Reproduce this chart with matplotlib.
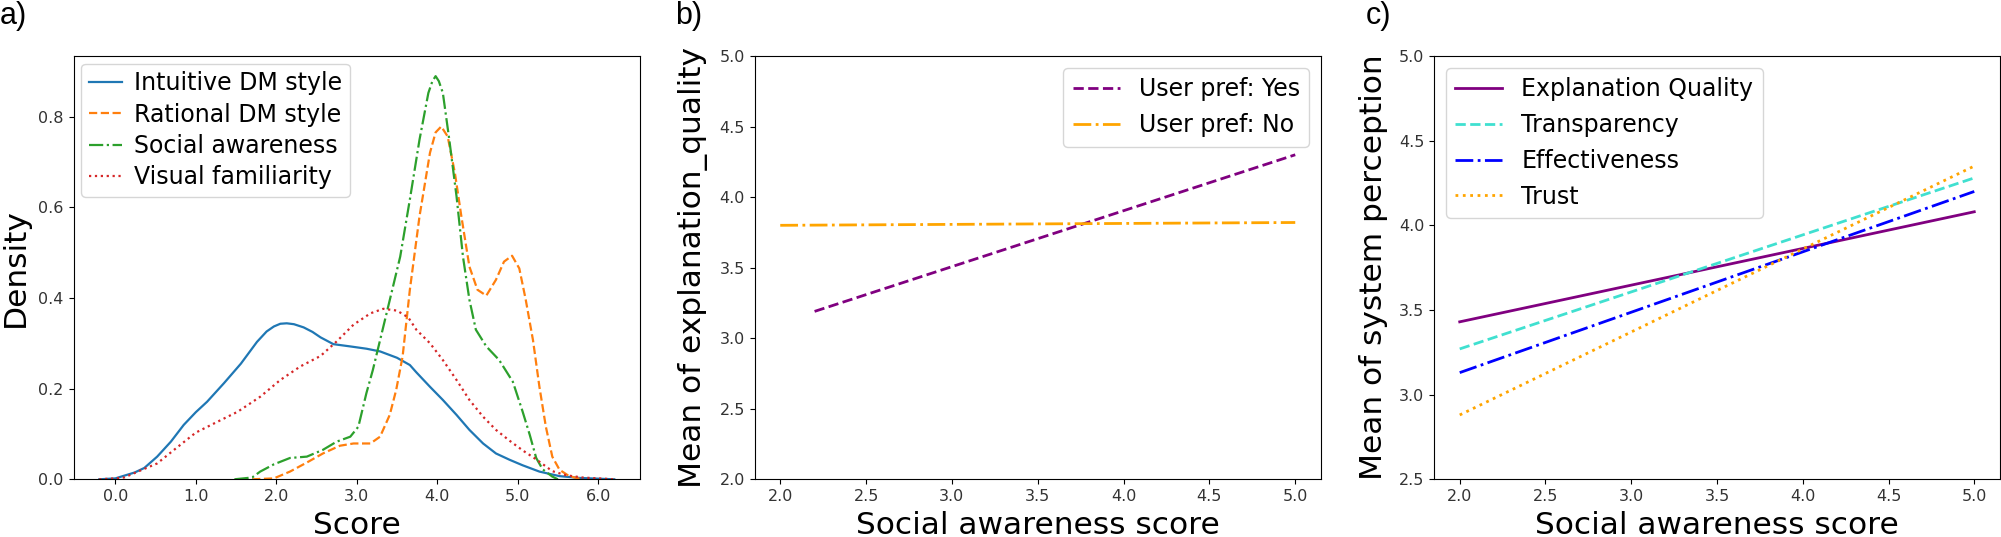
"""Three panels: score densities, and the two regression plots against social awareness."""
import matplotlib
matplotlib.use("Agg")
import matplotlib.pyplot as plt

# ---- panel a: density of each questionnaire score
INTUITIVE_X = [-0.2, 0.0, 0.24, 0.36, 0.52, 0.69, 0.85, 1.0, 1.14, 1.35, 1.56, 1.76, 1.88,
               1.97, 2.05, 2.13, 2.22, 2.34, 2.45, 2.55, 2.71, 2.92, 3.12, 3.29, 3.5, 3.66,
               3.74, 3.91, 4.07, 4.24, 4.40, 4.57, 4.73, 4.90, 5.06, 5.27, 5.52, 5.77, 6.2]
INTUITIVE_D = [0.0, 0.002, 0.015, 0.025, 0.05, 0.083, 0.12, 0.148, 0.171, 0.212, 0.255, 0.303,
               0.326, 0.337, 0.343, 0.344, 0.342, 0.335, 0.325, 0.313, 0.298, 0.293, 0.288,
               0.282, 0.268, 0.252, 0.236, 0.204, 0.175, 0.142, 0.109, 0.079, 0.057, 0.043,
               0.031, 0.017, 0.007, 0.003, 0.0]

RATIONAL_X = [1.7, 1.97, 2.17, 2.38, 2.58, 2.79, 2.96, 3.17, 3.29, 3.41, 3.49, 3.57, 3.66,
              3.78, 3.91, 3.98, 4.05, 4.13, 4.22, 4.30, 4.40, 4.5, 4.61, 4.73, 4.83, 4.93,
              5.02, 5.10, 5.19, 5.27, 5.35, 5.43, 5.52, 5.64, 5.8]
RATIONAL_D = [0.0, 0.002, 0.017, 0.037, 0.057, 0.074, 0.079, 0.079, 0.094, 0.142, 0.197,
              0.271, 0.418, 0.58, 0.72, 0.765, 0.778, 0.756, 0.675, 0.58, 0.469, 0.418,
              0.405, 0.44, 0.48, 0.493, 0.465, 0.396, 0.307, 0.204, 0.116, 0.05, 0.021,
              0.007, 0.0]

SOCIAL_X = [1.48, 1.7, 1.8, 1.97, 2.17, 2.38, 2.58, 2.75, 2.92, 3.02, 3.12, 3.2, 3.29, 3.41,
            3.54, 3.66, 3.78, 3.89, 3.94, 3.98, 4.02, 4.07, 4.15, 4.24, 4.32, 4.40, 4.48,
            4.61, 4.77, 4.94, 5.06, 5.15, 5.23, 5.31, 5.43, 5.5]
SOCIAL_D = [0.0, 0.004, 0.017, 0.033, 0.047, 0.05, 0.065, 0.083, 0.094, 0.116, 0.19, 0.241,
            0.307, 0.395, 0.491, 0.617, 0.749, 0.852, 0.878, 0.889, 0.878, 0.852, 0.749,
            0.624, 0.491, 0.396, 0.330, 0.293, 0.263, 0.215, 0.15, 0.098, 0.047, 0.022,
            0.006, 0.0]

VISUAL_X = [-0.2, 0.0, 0.11, 0.32, 0.52, 0.73, 1.0, 1.27, 1.52, 1.8, 2.05, 2.3, 2.55, 2.75,
            2.96, 3.17, 3.33, 3.5, 3.64, 3.74, 3.91, 4.07, 4.24, 4.40, 4.57, 4.73, 4.90,
            5.06, 5.23, 5.43, 5.6, 5.8, 6.2]
VISUAL_D = [0.0, 0.002, 0.004, 0.02, 0.035, 0.065, 0.103, 0.127, 0.149, 0.182, 0.219, 0.249,
            0.272, 0.304, 0.341, 0.366, 0.376, 0.372, 0.357, 0.33, 0.30, 0.263, 0.219, 0.175,
            0.138, 0.109, 0.085, 0.064, 0.044, 0.018, 0.009, 0.004, 0.0]

# ---- panel b: fitted explanation quality by user preference
PREF_YES_X, PREF_YES_Y = [2.2, 5.0], [3.19, 4.30]
PREF_NO_X, PREF_NO_Y = [2.0, 5.0], [3.80, 3.82]

# ---- panel c: fitted system perception measures
SA_X = [2.0, 5.0]
EXPL_QUALITY = [3.43, 4.08]
TRANSPARENCY = [3.27, 4.28]
EFFECTIVENESS = [3.13, 4.20]
TRUST = [2.88, 4.35]

LABEL_FS, LEG_FS, TICK_FS = 22.5, 17, 11.5
TICK_COL = "#333333"

fig = plt.figure(figsize=(20.01, 5.37), dpi=100)
W, H = 2001, 537


def axes_at(left, right, top=56, bottom=479.3):
    return fig.add_axes([left / W, (H - bottom) / H, (right - left) / W, (bottom - top) / H])


def finish(ax, xlabel, ylabel, ylab_x):
    ax.set_xlabel(xlabel, fontsize=LABEL_FS)
    ax.set_ylabel(ylabel, fontsize=LABEL_FS)
    ax.xaxis.set_label_coords(0.5, -0.075)
    ax.yaxis.set_label_coords(ylab_x, 0.5)
    ax.tick_params(labelsize=TICK_FS, labelcolor=TICK_COL)


# a) densities
ax = axes_at(73.5, 640)
ax.plot(INTUITIVE_X, INTUITIVE_D, color="C0", ls="-", lw=1.6, label="Intuitive DM style")
ax.plot(RATIONAL_X, RATIONAL_D, color="C1", ls="--", lw=1.6, label="Rational DM style")
ax.plot(SOCIAL_X, SOCIAL_D, color="C2", ls="-.", lw=1.6, label="Social awareness")
ax.plot(VISUAL_X, VISUAL_D, color="C3", ls=":", lw=1.6, label="Visual familiarity")
ax.set_ylim(0, None)
ax.set_xticks(range(7))
ax.set_xticklabels([f"{v:.1f}" for v in range(7)])
ax.set_yticks([0, 0.2, 0.4, 0.6, 0.8])
ax.set_yticklabels([f"{v:.1f}" for v in [0, 0.2, 0.4, 0.6, 0.8]])
ax.legend(loc="upper left", fontsize=LEG_FS, borderaxespad=0.32, borderpad=0.33,
          labelspacing=0.31, handlelength=1.4, handletextpad=0.5)
finish(ax, "Score", "Density", -0.077)

# b) explanation quality
ax = axes_at(754.5, 1321)
ax.plot(PREF_YES_X, PREF_YES_Y, color="purple", ls="--", lw=2.0, label="User pref: Yes")
ax.plot(PREF_NO_X, PREF_NO_Y, color="orange", ls="-.", lw=2.0, label="User pref: No")
ax.set_ylim(2.0, 5.0)
ax.set_xticks([2.0, 2.5, 3.0, 3.5, 4.0, 4.5, 5.0])
ax.set_yticks([2.0, 2.5, 3.0, 3.5, 4.0, 4.5, 5.0])
ax.legend(loc="upper right", fontsize=LEG_FS)
finish(ax, "Social awareness score", "Mean of explanation_quality", -0.082)

# c) system perception
ax = axes_at(1434, 2000)
ax.plot(SA_X, EXPL_QUALITY, color="purple", ls="-", lw=2.0, label="Explanation Quality")
ax.plot(SA_X, TRANSPARENCY, color="turquoise", ls="--", lw=2.0, label="Transparency")
ax.plot(SA_X, EFFECTIVENESS, color="blue", ls="-.", lw=2.0, label="Effectiveness")
ax.plot(SA_X, TRUST, color="orange", ls=":", lw=2.0, label="Trust")
ax.set_ylim(2.5, 5.0)
ax.set_xticks([2.0, 2.5, 3.0, 3.5, 4.0, 4.5, 5.0])
ax.set_yticks([2.5, 3.0, 3.5, 4.0, 4.5, 5.0])
ax.legend(loc="upper left", fontsize=LEG_FS)
finish(ax, "Social awareness score", "Mean of system perception", -0.081)

# panel letters
for x, s in [(0, "a)"), (675, "b)"), (1366, "c)")]:
    fig.text(x / W, 0.998, s, fontsize=22, family="Liberation Sans", va="top", ha="left")

fig.savefig("out.png", dpi=100)
